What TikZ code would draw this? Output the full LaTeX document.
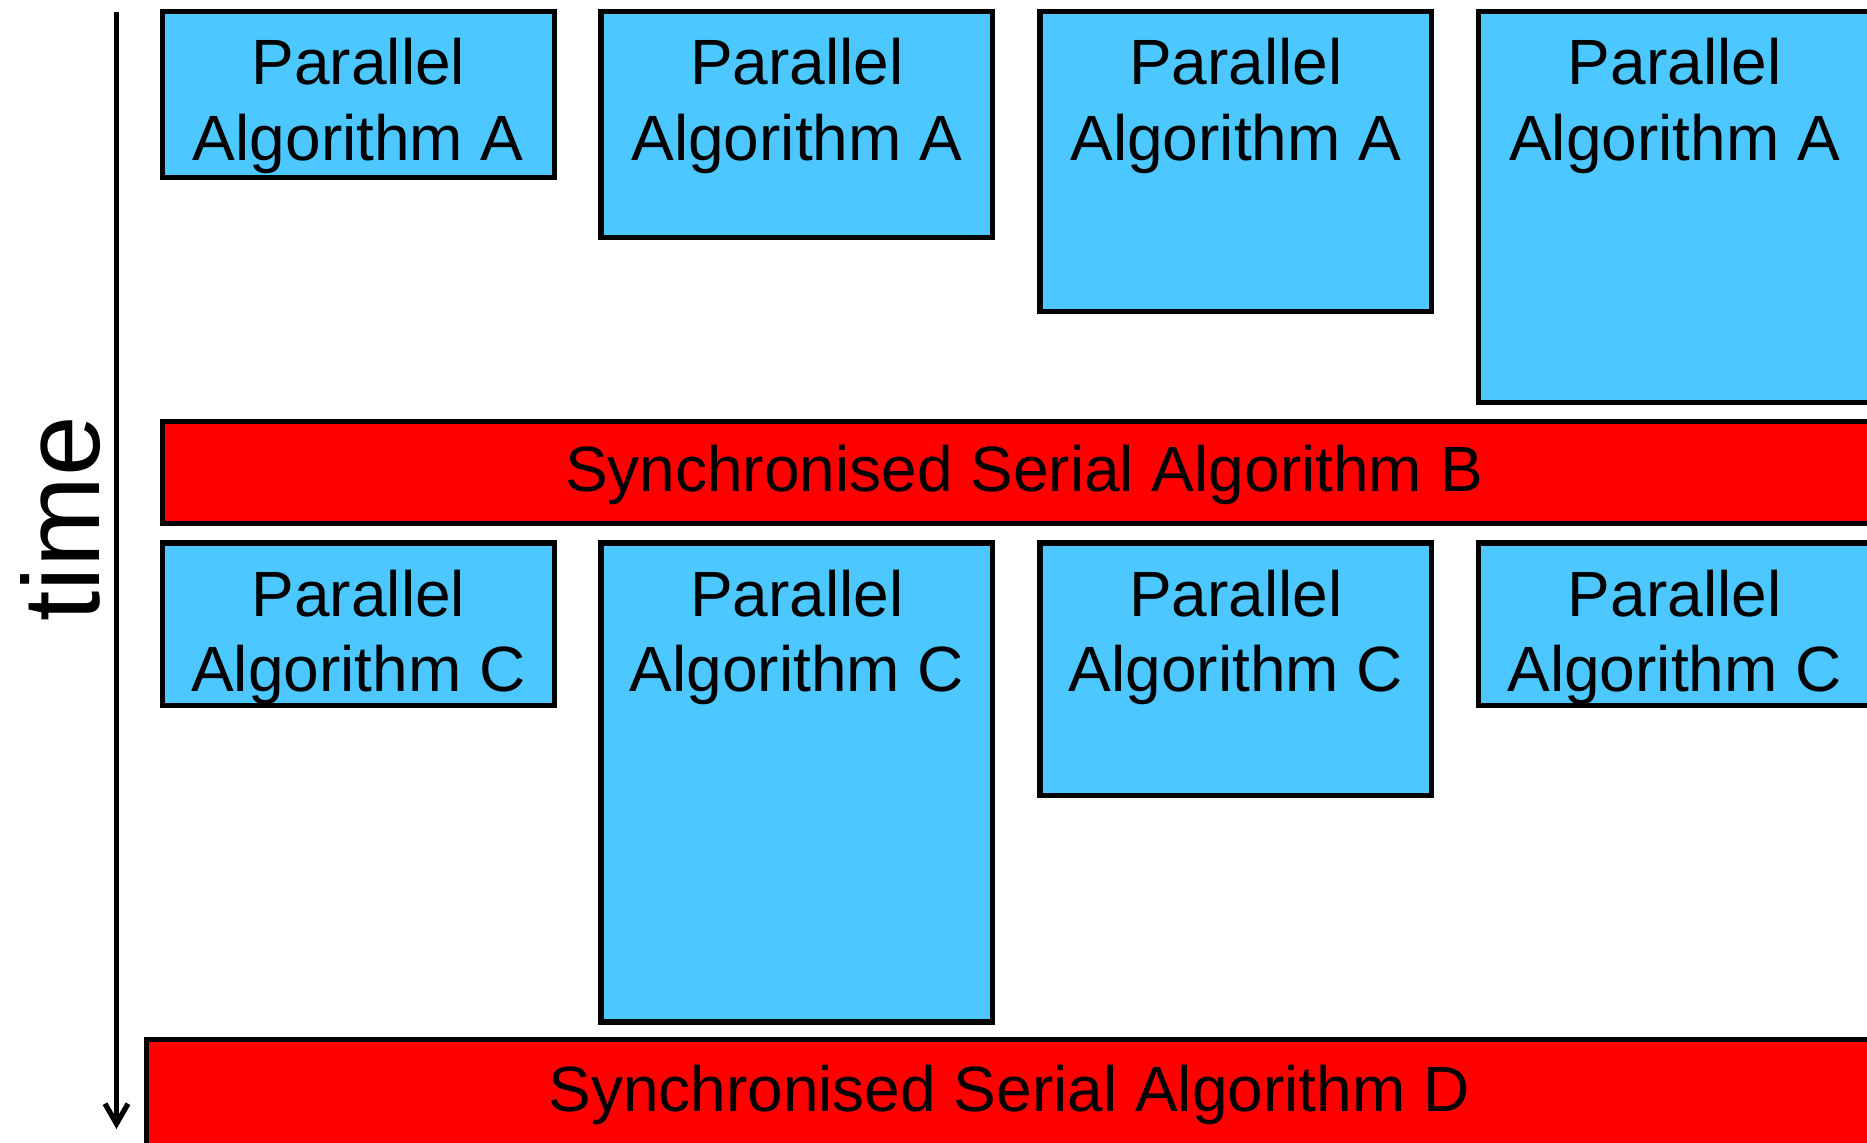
\documentclass[tikz,border=0pt]{standalone}
\usepackage{fontspec}
\setmainfont{Liberation Sans}
\usetikzlibrary{arrows.meta}
\definecolor{parblue}{RGB}{76,199,255}
\definecolor{serred}{RGB}{255,0,0}

\begin{document}
\begin{tikzpicture}[x=0.01cm, y=-0.01cm,
  box/.style={draw=black, line width=1.45pt, anchor=north west, inner sep=0pt, outer sep=0pt},
  parbox/.style={box, fill=parblue, minimum width=3.915cm},
  widebox/.style={box, fill=parblue, minimum width=4.6cm},
  serbox/.style={box, fill=serred},
  lbl/.style={inner sep=0pt, font=\fontsize{18.2}{21.4}\selectfont, align=center},
  timelbl/.style={inner sep=0pt, font=\fontsize{31}{37}\selectfont, rotate=90, anchor=base},
]
\clip (0,0) rectangle (1867,1143);
\fill[white] (0,0) rectangle (1867,1143);

% first parallel phase
\node[parbox, minimum height=1.653cm] (a1) at (162.5,11.7) {};
\node[parbox, minimum height=2.258cm] (a2) at (601,11.7) {};
\node[parbox, minimum height=3.0cm] (a3) at (1040,11.7) {};
\node[widebox, minimum height=3.908cm] (a4) at (1478.5,11.7) {};
\foreach \n in {a1,a2,a3}
  \node[lbl, anchor=north] (\n t) at ([yshift=-0.262cm]\n.north) {Parallel\\Algorithm A};
\node[lbl, anchor=north] (a4t) at ([xshift=1.96cm, yshift=-0.262cm]a4.north west) {Parallel\\Algorithm A};

% serial step B
\node[serbox, minimum width=17.22cm, minimum height=1.015cm] (b) at (162.5,421.5) {};
\node[lbl, anchor=base] (bt) at ([yshift=-0.195cm]b.center) {Synchronised Serial Algorithm B};

% second parallel phase
\node[parbox, minimum height=1.62cm] (c1) at (162.5,543) {};
\node[parbox, minimum height=4.787cm] (c2) at (601,543) {};
\node[parbox, minimum height=2.525cm] (c3) at (1040,543) {};
\node[widebox, minimum height=1.62cm] (c4) at (1478.5,543) {};
\foreach \n in {c1,c2,c3}
  \node[lbl, anchor=north] (\n t) at ([yshift=-0.262cm]\n.north) {Parallel\\Algorithm C};
\node[lbl, anchor=north] (c4t) at ([xshift=1.96cm, yshift=-0.262cm]c4.north west) {Parallel\\Algorithm C};

% serial step D
\node[serbox, minimum width=18.2cm, minimum height=1.5cm] (d) at (146.5,1039.5) {};
\node[lbl, anchor=base] (dt) at ([xshift=8.62cm, yshift=-0.715cm]d.north west) {Synchronised Serial Algorithm D};

% time axis
\coordinate (ts) at (116.5,11.7);
\coordinate (te) at (116.5,1129);
\draw[line width=1.5pt, -{Straight Barb[length=0.2cm,width=0.23cm]}] (ts) -- (te);
\node[timelbl] (time) at (99.5,519) {time};
\end{tikzpicture}
\end{document}
